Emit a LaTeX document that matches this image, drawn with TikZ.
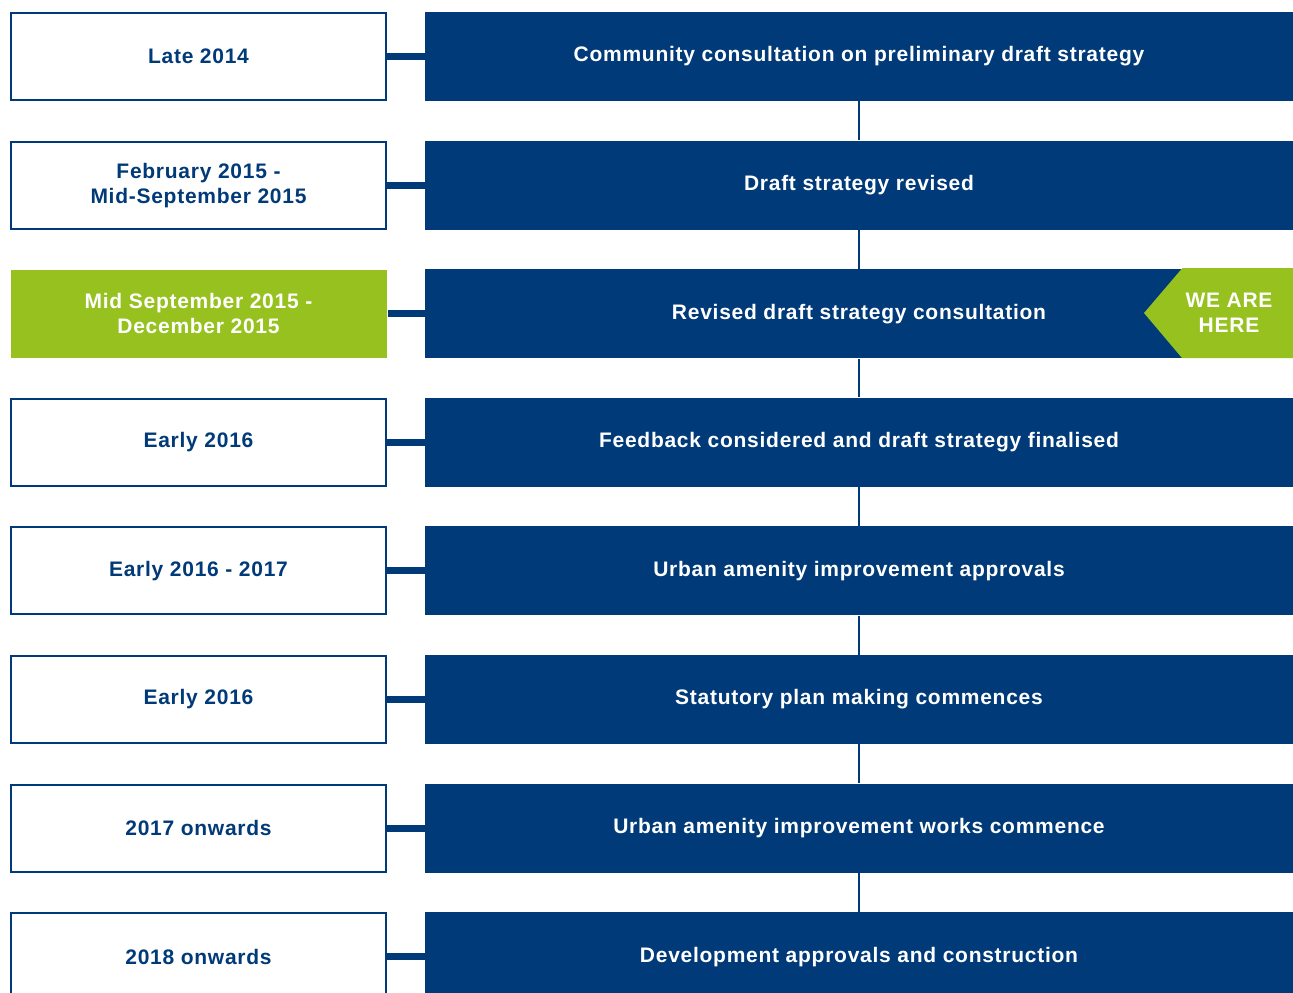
\documentclass[tikz,border=0pt]{standalone}
\usepackage{fontspec}
\setmainfont[LetterSpace=3.5]{Liberation Sans}
\usetikzlibrary{positioning}
\definecolor{planBlue}{RGB}{0,58,120}
\definecolor{planGreen}{RGB}{150,193,31}

\begin{document}
\begin{tikzpicture}[x=0.5pt,y=-0.5pt,
      font=\fontsize{10.5}{12.5}\selectfont\bfseries,
      date/.style={rectangle,draw=planBlue,line width=1pt,fill=white,text=planBlue,
                   minimum width=187.5pt,minimum height=43.5pt,align=center,inner sep=0pt},
      now/.style={date,draw=none,fill=planGreen,text=white,minimum width=188pt,
                  minimum height=44pt},
      stage/.style={rectangle,fill=planBlue,text=white,minimum width=434pt,
                    minimum height=44.5pt,align=center,inner sep=0pt},
      link/.style={planBlue,line width=3.5pt},
      spine/.style={planBlue,line width=1pt}]

    \useasboundingbox (0,0) rectangle (1293,992);
    \clip (0,0) rectangle (1293,992);

    % ---------- timeline rows ----------
    \foreach \i/\st/\d/\s in {
        1/date/Late 2014/Community consultation on preliminary draft strategy,
        2/date/February 2015 -\\Mid-September 2015/Draft strategy revised,
        3/now/Mid September 2015 -\\December 2015/Revised draft strategy consultation,
        4/date/Early 2016/Feedback considered and draft strategy finalised,
        5/date/Early 2016 - 2017/Urban amenity improvement approvals,
        6/date/Early 2016/Statutory plan making commences,
        7/date/2017 onwards/Urban amenity improvement works commence,
        8/date/2018 onwards/Development approvals and construction} {
      \node[\st]   (date\i)  at (198.5,{56.5+128.6*(\i-1)}) {\d};
      \node[stage] (stage\i) at (859,{56.5+128.6*(\i-1)})   {\s};
      \draw[link] (date\i.east) -- (stage\i.west);
    }

    % ---------- spine between stages ----------
    \foreach \i in {1,...,7} {
      \pgfmathtruncatemacro{\j}{\i+1}
      \draw[spine] (stage\i.south) -- (stage\j.north);
    }

    % ---------- we are here marker ----------
    \fill[planGreen] (stage3.east |- 0,268) -- ++(-111,0) -- (1144,313)
      -- (1182,358) -- (stage3.east |- 0,358) -- cycle;
    \node[text=white,align=center] (here) at (1229,313) {WE ARE\\HERE};
  \end{tikzpicture}
\end{document}
